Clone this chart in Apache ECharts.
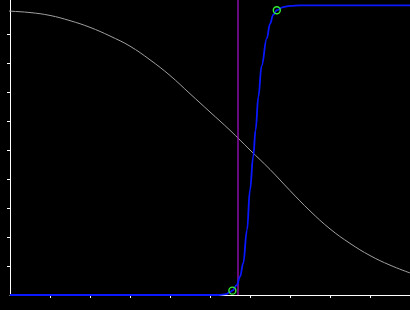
<!DOCTYPE html>
<html>
<head>
<meta charset="utf-8">
<script src="https://cdn.jsdelivr.net/npm/echarts@6/dist/echarts.min.js"></script>
<style>
html,body{margin:0;padding:0;background:#000;}
#c{width:410px;height:310px;}
</style>
</head>
<body>
<div id="c"></div>
<script>
// x/y tick positions (no labels shown)
const xTicks = [1, 2, 3, 4, 5, 6, 7, 8, 9];
const yTicks = [0.1, 0.2, 0.3, 0.4, 0.5, 0.6, 0.7, 0.8, 0.9];

// grey decreasing curve
const greyX = [-0.25, 0, 0.5, 1, 1.5, 2, 2.5, 3, 3.5, 4, 4.5, 5, 5.5, 6, 6.5, 7, 7.5, 8, 8.5, 9, 9.5, 10];
const greyY = [0.982, 0.979, 0.974, 0.964, 0.946, 0.923, 0.893, 0.858, 0.811, 0.757, 0.694, 0.631, 0.568, 0.500, 0.433, 0.360, 0.290, 0.228, 0.178, 0.136, 0.103, 0.076];

// blue steep rising curve
const blueX = [0, 5.22, 5.4, 5.5, 5.56, 5.67, 5.75, 5.83, 5.925, 6.0, 6.08, 6.14, 6.21, 6.29, 6.42, 6.5, 6.58, 6.67, 6.83, 7.0, 7.25, 10];
const blueY = [0, 0, 0.003, 0.010, 0.015, 0.034, 0.063, 0.109, 0.224, 0.362, 0.477, 0.569, 0.684, 0.790, 0.885, 0.935, 0.966, 0.982, 0.993, 0.997, 0.999, 0.999];

// highlighted points (green circles)
const markX = [5.56, 6.67];
const markY = [0.015, 0.982];

// vertical purple line position
const vLineX = 5.7;

const yMax = 295 / 290;

const zip = (a, b) => a.map((v, i) => [v, b[i]]);

const chart = echarts.init(document.getElementById('c'), null, {renderer: 'canvas'});
chart.setOption({
  backgroundColor: '#000',
  animation: false,
  grid: {left: 10, right: 0, top: 0, bottom: 15, containLabel: false},
  xAxis: {
    type: 'value', min: 0, max: 10, interval: 1,
    axisLine: {show: true, lineStyle: {color: '#fff', width: 1}},
    axisTick: {show: true, length: 3, lineStyle: {color: '#fff', width: 1}, customValues: xTicks},
    axisLabel: {show: false},
    splitLine: {show: false}
  },
  yAxis: {
    type: 'value', min: 0, max: yMax, interval: 0.1,
    axisLine: {show: true, lineStyle: {color: '#fff', width: 1}},
    axisTick: {show: true, length: 3, lineStyle: {color: '#fff', width: 1}, customValues: yTicks},
    axisLabel: {show: false},
    splitLine: {show: false}
  },
  series: [
    {
      type: 'line', data: zip(greyX, greyY), clip: false,
      showSymbol: false, smooth: 0.4,
      lineStyle: {color: '#a0a0a0', width: 1}
    },
    {
      type: 'line', data: [[vLineX, 0], [vLineX, yMax]],
      showSymbol: false,
      lineStyle: {color: '#a010c0', width: 1.3}
    },
    {
      type: 'line', data: zip(blueX, blueY),
      showSymbol: false, smooth: 0.4, smoothMonotone: 'x',
      lineStyle: {color: '#0a18ff', width: 1.8}
    },
    {
      type: 'scatter', data: zip(markX, markY), z: 10,
      symbol: 'circle', symbolSize: 7,
      itemStyle: {color: 'transparent', borderColor: '#33ee33', borderWidth: 1.4, opacity: 1}
    }
  ]
});
</script>
</body>
</html>
